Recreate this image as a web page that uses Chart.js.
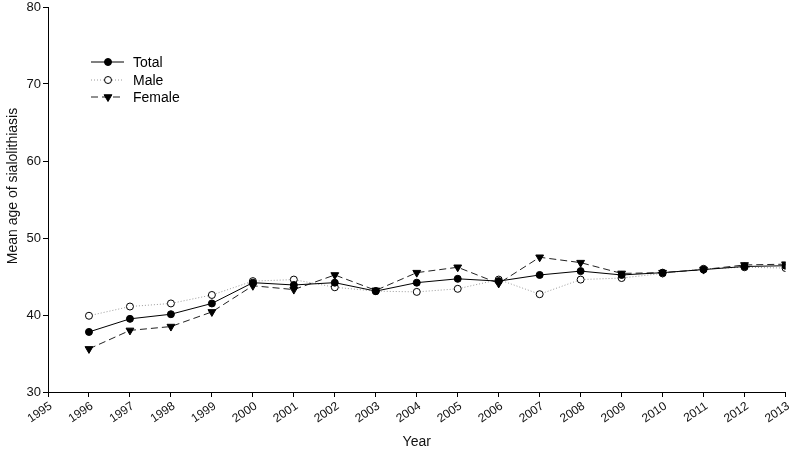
<!DOCTYPE html>
<html>
<head>
<meta charset="utf-8">
<script src="https://cdn.jsdelivr.net/npm/chart.js@4"></script>
<style>
html,body{margin:0;padding:0;background:#fff;}
#wrap{width:791px;height:451px;position:relative;}
</style>
</head>
<body>
<div id="wrap"><canvas id="c" width="791" height="451"></canvas></div>
<script>
const years = [1996,1997,1998,1999,2000,2001,2002,2003,2004,2005,2006,2007,2008,2009,2010,2011,2012,2013];
const totalVals  = [37.8,39.5,40.1,41.5,44.2,43.9,44.2,43.1,44.2,44.7,44.4,45.2,45.7,45.2,45.5,45.9,46.3,46.4];
const maleVals   = [39.9,41.1,41.5,42.6,44.4,44.6,43.6,43.1,43.0,43.4,44.6,42.7,44.6,44.8,45.4,46.0,46.2,46.1];
const femaleVals = [35.6,38.0,38.5,40.4,43.8,43.3,45.2,43.2,45.5,46.2,44.1,47.5,46.8,45.4,45.5,45.9,46.5,46.6];
const seriesNames = ["Total","Male","Female"];
const yTitle = "Mean age of sialolithiasis";
const xTitle = "Year";
const xMin = 1995, xMax = 2013;
const yMin = 30, yMax = 80;

const toXY = arr => arr.map((v,i)=>({x:years[i], y:v}));

const FONT = "'Liberation Sans', Arial, sans-serif";

function marker(ctx, ds, x, y){
  ctx.fillStyle = ds.pointBackgroundColor;
  ctx.strokeStyle = ds.pointBorderColor;
  ctx.lineWidth = ds.pointBorderWidth || 1;
  ctx.setLineDash([]);
  ctx.beginPath();
  const r = ds.pointRadius;
  if (ds.pointStyle === 'circle') { ctx.arc(x,y,r,0,Math.PI*2); }
  else {
    ctx.moveTo(x-r*0.87, y-r*0.5); ctx.lineTo(x+r*0.87, y-r*0.5); ctx.lineTo(x, y+r); ctx.closePath();
  }
  ctx.fill(); ctx.stroke();
}

const insideLegend = {
  id:'insideLegend',
  afterDraw(chart){
    const ctx = chart.ctx;
    const rows = [62, 80, 97];
    chart.data.datasets.forEach((ds,i)=>{
      const y = rows[i];
      ctx.save();
      ctx.strokeStyle = ds.borderColor;
      ctx.lineWidth = ds.borderWidth;
      ctx.setLineDash(ds.borderDash || []);
      ctx.beginPath(); ctx.moveTo(91,y); ctx.lineTo(124,y); ctx.stroke();
      marker(ctx, ds, 108, y);
      ctx.fillStyle = '#000';
      ctx.font = "14px " + FONT;
      ctx.textBaseline = 'middle';
      ctx.fillText(ds.label, 133, y+1);
      ctx.restore();
    });
    // y axis title
    ctx.save();
    ctx.translate(13, 186);
    ctx.rotate(-Math.PI/2);
    ctx.fillStyle = '#111';
    ctx.font = "14px " + FONT;
    ctx.textAlign = 'center';
    ctx.textBaseline = 'middle';
    ctx.fillText(yTitle, 0, 0);
    ctx.restore();
  }
};

new Chart(document.getElementById('c'), {
  type:'line',
  data:{
    datasets:[
      {label:seriesNames[0], data:toXY(totalVals), borderColor:'#000', borderWidth:1,
       pointStyle:'circle', pointRadius:3.5, pointBackgroundColor:'#000', pointBorderColor:'#000', pointBorderWidth:1},
      {label:seriesNames[1], data:toXY(maleVals), borderColor:'#9a9a9a', borderWidth:1, borderDash:[1,2],
       pointStyle:'circle', pointRadius:3.5, pointBackgroundColor:'#fff', pointBorderColor:'#000', pointBorderWidth:1},
      {label:seriesNames[2], data:toXY(femaleVals), borderColor:'#222', borderWidth:1, borderDash:[7,4],
       pointStyle:'triangle', pointRotation:180, pointRadius:4.5, pointBackgroundColor:'#000', pointBorderColor:'#000', pointBorderWidth:1}
    ]
  },
  options:{
    responsive:false,
    animation:false,
    layout:{padding:{top:7,right:5,left:0,bottom:0}},
    plugins:{legend:{display:false}, tooltip:{enabled:false}},
    scales:{
      x:{
        type:'linear', min:xMin, max:xMax,
        afterFit(s){ s.height = 59; s.paddingLeft = 0; s.paddingRight = 0; },
        border:{display:true,color:'#000',width:1},
        grid:{display:true, drawOnChartArea:false, drawTicks:true, tickLength:5, color:'#000'},
        ticks:{stepSize:1, autoSkip:false, minRotation:34, maxRotation:34, color:'#111',
               font:{family:FONT,size:12}, padding:2, labelOffset:3, callback:v=>String(v)},
        title:{display:true, text:xTitle, color:'#111', font:{family:FONT,size:14}, padding:{top:4,bottom:0}}
      },
      y:{
        min:yMin, max:yMax,
        afterFit(s){ s.width = 48; s.paddingTop = 0; s.paddingBottom = 0; },
        border:{display:true,color:'#000',width:1},
        grid:{display:true, drawOnChartArea:false, drawTicks:true, tickLength:5, color:'#000'},
        ticks:{stepSize:10, color:'#111', font:{family:FONT,size:13}, padding:2},
        title:{display:false}
      }
    }
  },
  plugins:[insideLegend]
});
</script>
</body>
</html>
